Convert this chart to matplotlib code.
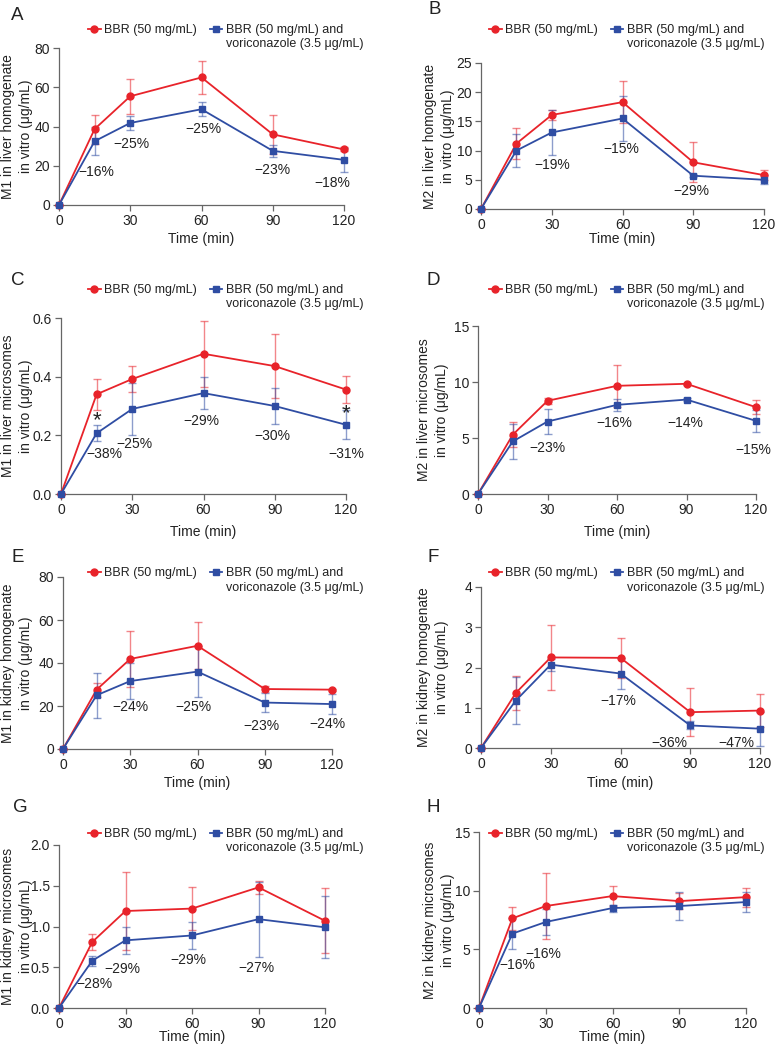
import numpy as np
import matplotlib.pyplot as plt
from matplotlib.lines import Line2D
from matplotlib.ticker import FormatStrFormatter

plt.rcParams['font.family'] = ['Liberation Sans', 'DejaVu Sans']

# ---- data ----
time = [0, 15, 30, 60, 90, 120]
xticks = [0, 30, 60, 90, 120]
label_red = 'BBR (50 mg/mL)'
label_blue = ['BBR (50 mg/mL) and', 'voriconazole (3.5 μg/mL)']

a_red = [0, 38.7, 55.4, 65.0, 36.0, 28.3]
a_red_err = [0, 7.4, 9.0, 8.5, 10.0, 1.0]
a_blue = [0, 32.5, 41.8, 48.8, 27.6, 23.0]
a_blue_err = [0, 7.0, 3.5, 3.5, 3.0, 6.0]
a_pct = ['−16%', '−25%', '−25%', '−23%', '−18%']

b_red = [0, 11.2, 16.1, 18.3, 8.0, 5.8]
b_red_err = [0, 2.6, 0.8, 3.6, 3.4, 0.8]
b_blue = [0, 10.0, 13.1, 15.5, 5.7, 5.0]
b_blue_err = [0, 2.8, 3.9, 3.8, 0.3, 0.8]
b_pct = ['−19%', '−15%', '−29%']

c_red = [0, 0.340, 0.392, 0.478, 0.436, 0.356]
c_red_err = [0, 0.053, 0.045, 0.112, 0.110, 0.046]
c_blue = [0, 0.207, 0.290, 0.344, 0.300, 0.236]
c_blue_err = [0, 0.028, 0.090, 0.055, 0.063, 0.050]
c_pct = ['−38%', '−25%', '−29%', '−30%', '−31%']

d_red = [0, 5.29, 8.32, 9.66, 9.84, 7.75]
d_red_err = [0, 1.1, 0.25, 1.9, 0.1, 0.6]
d_blue = [0, 4.69, 6.47, 7.96, 8.43, 6.53]
d_blue_err = [0, 1.55, 1.15, 0.55, 0.15, 1.0]
d_pct = ['−23%', '−16%', '−14%', '−15%']

e_red = [0, 27.6, 41.9, 48.0, 27.9, 27.6]
e_red_err = [0, 3.3, 13.0, 11.0, 1.5, 0.5]
e_blue = [0, 25.0, 31.6, 36.0, 21.6, 20.9]
e_blue_err = [0, 10.5, 8.3, 11.7, 4.5, 4.8]
e_pct = ['−24%', '−25%', '−23%', '−24%']

f_red = [0, 1.37, 2.25, 2.24, 0.89, 0.93]
f_red_err = [0, 0.43, 0.80, 0.50, 0.60, 0.40]
f_blue = [0, 1.18, 2.07, 1.85, 0.56, 0.48]
f_blue_err = [0, 0.58, 0.15, 0.38, 0.10, 0.42]
f_pct = ['−17%', '−36%', '−47%']

g_red = [0, 0.81, 1.19, 1.22, 1.48, 1.07]
g_red_err = [0, 0.10, 0.48, 0.26, 0.08, 0.40]
g_blue = [0, 0.58, 0.83, 0.89, 1.09, 0.99]
g_blue_err = [0, 0.06, 0.17, 0.16, 0.46, 0.38]
g_pct = ['−28%', '−29%', '−29%', '−27%']

h_red = [0, 7.64, 8.69, 9.54, 9.11, 9.45]
h_red_err = [0, 1.0, 2.8, 0.85, 0.7, 0.8]
h_blue = [0, 6.34, 7.33, 8.52, 8.69, 9.03]
h_blue_err = [0, 1.3, 1.15, 0.3, 1.2, 0.85]
h_pct = ['−16%', '−16%']

# ---- drawing ----
W, H = 776, 1046
RED = '#e8232a'
BLUE = '#2f4da3'
SPINE = '#666666'
INK = '#222222'

fig = plt.figure(figsize=(W / 100, H / 100), dpi=100)


def panel(box, letter, letter_xy, red, red_err, blue, blue_err, yticks, yfmt,
          ylabel, ylab_off, xlab_px, pct, pct_xy, leg_xy, stars=()):
    l, t, r, b = box
    ax = fig.add_axes([l / W, 1 - b / H, (r - l) / W, (b - t) / H])
    ax.errorbar(time, red, yerr=red_err, fmt='none', ecolor=RED, alpha=0.55,
                elinewidth=1.0, capsize=3, capthick=1.0, clip_on=False)
    ax.errorbar(time, blue, yerr=blue_err, fmt='none', ecolor=BLUE, alpha=0.55,
                elinewidth=1.0, capsize=3, capthick=1.0, clip_on=False)
    lr, = ax.plot(time, red, color=RED, lw=1.3, marker='o', ms=5, clip_on=False, zorder=4)
    lb, = ax.plot(time, blue, color=BLUE, lw=1.3, marker='s', ms=5, clip_on=False, zorder=5)

    ax.set_xlim(0, 120)
    ax.set_ylim(yticks[0], yticks[-1])
    ax.set_xticks(xticks)
    ax.set_yticks(yticks)
    ax.yaxis.set_major_formatter(FormatStrFormatter(yfmt))
    for s in ['top', 'right']:
        ax.spines[s].set_visible(False)
    for s in ['left', 'bottom']:
        ax.spines[s].set_color(SPINE)
        ax.spines[s].set_linewidth(0.9)
    ax.tick_params(direction='out', length=4, width=0.9, color=SPINE,
                   labelsize=10, labelcolor=INK, pad=2.5)

    ax.set_xlabel('Time (min)', fontsize=10, color=INK)
    ax.xaxis.set_label_coords(0.5, -(xlab_px - b) / (b - t))
    ax.xaxis.label.set_va('center')
    ax.set_ylabel(ylabel, fontsize=10, color=INK, linespacing=1.3)
    ax.yaxis.set_label_coords(-ylab_off / (r - l), 0.5)
    ax.yaxis.label.set_va('center')

    for txt, (x, y) in zip(pct, pct_xy):
        ax.text(x, y, txt, fontsize=10, ha='center', va='center', color=INK)
    for x, y in stars:
        ax.text(x, y, '*', fontsize=16, ha='center', va='center', color=INK)

    fig.text(letter_xy[0] / W, 1 - letter_xy[1] / H, letter, fontsize=13.5,
             ha='center', va='center', color=INK)

    # legend: blank handle keeps the blue marker on the first text line
    blank = Line2D([], [], color='none')
    leg = ax.legend([lr, blank, lb, blank], [label_red, '', label_blue[0], label_blue[1]],
                    ncol=2, loc='upper left',
                    bbox_to_anchor=(leg_xy[0] / W, 1 - leg_xy[1] / H),
                    bbox_transform=fig.transFigure, frameon=False, fontsize=9,
                    handlelength=1.0, handletextpad=0.3, columnspacing=1.0,
                    labelspacing=0.2, borderpad=0, borderaxespad=0)
    for tx in leg.get_texts():
        tx.set_color(INK)
    return ax


panel((59, 48, 344, 205), 'A', (17, 16), a_red, a_red_err, a_blue, a_blue_err,
      [0, 20, 40, 60, 80], '%d', 'M1 in liver homogenate\nin vitro (μg/mL)', 42, 239,
      a_pct, [(15.7, 17), (30.5, 31), (60.6, 38.5), (90, 18), (115, 11)], (88, 24))

panel((481, 63, 764, 209), 'B', (435, 10), b_red, b_red_err, b_blue, b_blue_err,
      [0, 5, 10, 15, 20, 25], '%d', 'M2 in liver homogenate\nin vitro (μg/mL)', 42, 239,
      b_pct, [(30.3, 7.6), (59.3, 10.3), (89, 3.0)], (489, 24))

panel((61, 318, 346, 494), 'C', (18, 280), c_red, c_red_err, c_blue, c_blue_err,
      [0.0, 0.2, 0.4, 0.6], '%.1f', 'M1 in liver microsomes\nin vitro (μg/mL)', 44, 532,
      c_pct, [(18.3, 0.136), (30.9, 0.17), (59, 0.25), (89, 0.197), (120, 0.136)], (88, 284),
      stars=[(15, 0.25), (120, 0.275)])

panel((478, 326, 756, 494), 'D', (433, 280), d_red, d_red_err, d_blue, d_blue_err,
      [0, 5, 10, 15], '%d', 'M2 in liver microsomes\nin vitro (μg/mL)', 45, 532,
      d_pct, [(30, 4.15), (59, 6.3), (89.3, 6.3), (119, 3.9)], (489, 284))

panel((63, 577, 332, 749), 'E', (18, 558), e_red, e_red_err, e_blue, e_blue_err,
      [0, 20, 40, 60, 80], '%d', 'M1 in kidney homogenate\nin vitro (μg/mL)', 46, 783,
      e_pct, [(30, 19.4), (58.3, 19.4), (88.5, 10.5), (118, 11.6)], (88, 567))

panel((481, 587, 760, 748), 'F', (433, 558), f_red, f_red_err, f_blue, f_blue_err,
      [0, 1, 2, 3, 4], '%d', 'M2 in kidney homogenate\nin vitro (μg/mL)', 48, 783,
      f_pct, [(59, 1.16), (81, 0.12), (110, 0.12)], (489, 567))

panel((59, 845, 325, 1008), 'G', (20, 808), g_red, g_red_err, g_blue, g_blue_err,
      [0.0, 0.5, 1.0, 1.5, 2.0], '%.1f', 'M1 in kidney microsomes\nin vitro (μg/mL)', 42, 1037,
      g_pct, [(16, 0.29), (28.6, 0.48), (58.3, 0.59), (89, 0.49)], (88, 828))

panel((479, 832, 746, 1008), 'H', (433, 808), h_red, h_red_err, h_blue, h_blue_err,
      [0, 5, 10, 15], '%d', 'M2 in kidney microsomes\nin vitro (μg/mL)', 40, 1037,
      h_pct, [(17, 3.7), (29, 4.6)], (489, 828))

fig.savefig('out.png', dpi=100)
